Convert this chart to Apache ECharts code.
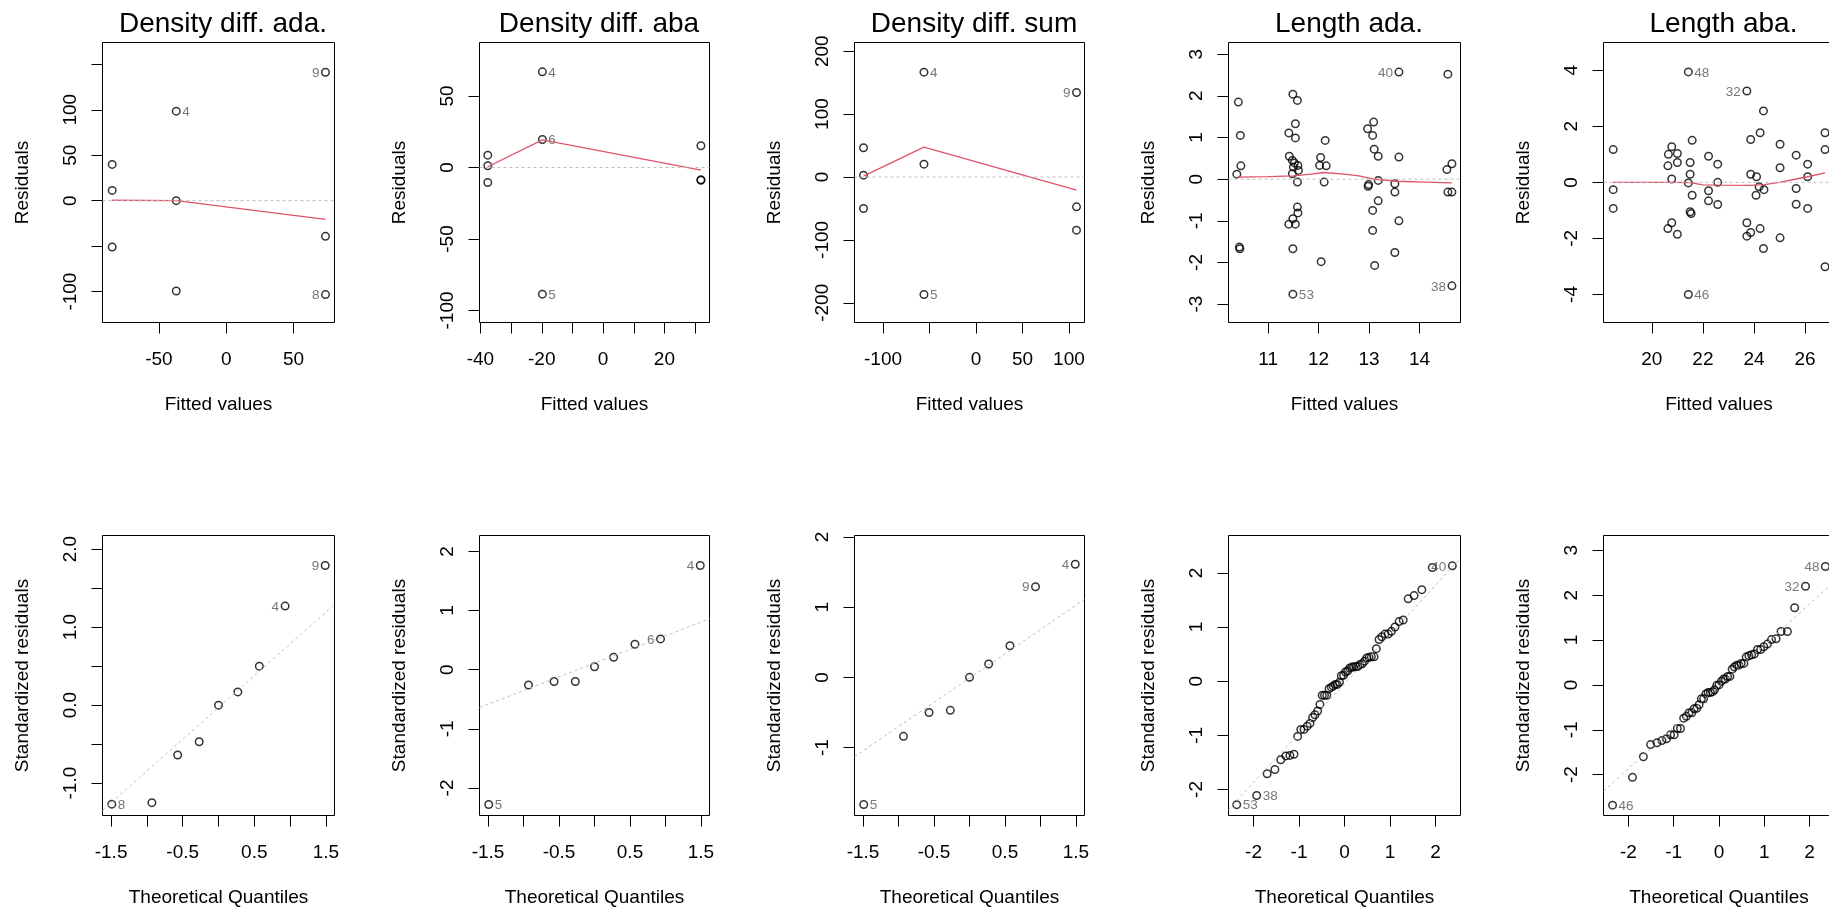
<!DOCTYPE html>
<html>
<head>
<meta charset="utf-8">
<title>Model diagnostics</title>
<script src="https://cdn.jsdelivr.net/npm/echarts@6/dist/echarts.min.js"></script>
<style>
  html, body { margin: 0; padding: 0; background: #ffffff; }
  #chart { width: 1829px; height: 910px; }
</style>
</head>
<body>
<div id="chart"></div>
<script>
// ---------- Density diff. ada. ----------
const adaFitted = [-84.7, -84.7, -84.7, -37.1, -37.1, -37.1, 73.8, 73.8, 73.8];
const adaResid  = [39.9, 11.3, -51.0, 98.5, 0.0, -99.3, 141.3, -39.2, -103.3];
const adaIds    = ['', '', '', '4', '', '', '9', '', '8'];
const adaSmoothX = [-84.7, -37.1, 73.8];
const adaSmoothY = [0.5, 0.0, -20.5];
const adaQQTheo = [-1.49, -0.93, -0.57, -0.27, 0.0, 0.27, 0.57, 0.93, 1.49];
const adaQQStd  = [-1.27, -1.25, -0.64, -0.47, 0.0, 0.17, 0.50, 1.27, 1.79];
const adaQQIds  = ['8', '', '', '', '', '', '', '4', '9'];
const adaQQLineX = [-1.62, 1.62];
const adaQQLineY = [-1.35, 1.29];

// ---------- Density diff. aba ----------
const abaFitted = [-37.6, -37.6, -37.6, -19.8, -19.8, -19.8, 31.9, 31.9, 31.9];
const abaResid  = [8.6, 1.2, -10.5, 66.9, 19.6, -88.6, 15.2, -8.6, -9.0];
const abaIds    = ['', '', '', '4', '6', '5', '', '', ''];
const abaSmoothX = [-37.6, -19.8, 31.9];
const abaSmoothY = [0.5, 19.3, -1.9];
const abaQQTheo = [-1.49, -0.93, -0.57, -0.27, 0.0, 0.27, 0.57, 0.93, 1.49];
const abaQQStd  = [-2.28, -0.26, -0.20, -0.20, 0.05, 0.21, 0.43, 0.52, 1.76];
const abaQQIds  = ['5', '', '', '', '', '', '', '6', '4'];
const abaQQLineX = [-1.62, 1.62];
const abaQQLineY = [-0.64, 0.86];

// ---------- Density diff. sum ----------
const sumFitted = [-121, -121, -121, -56, -56, -56, 108.1, 108.1, 108.1];
const sumResid  = [46.4, 2.9, -50.1, 166.6, 20.4, -186.8, 134.3, -47.4, -84.5];
const sumIds    = ['', '', '', '4', '', '5', '9', '', ''];
const sumSmoothX = [-121, -56, 108.1];
const sumSmoothY = [1.3, 47.4, -20.9];
const sumQQTheo = [-1.49, -0.93, -0.57, -0.27, 0.0, 0.27, 0.57, 0.93, 1.49];
const sumQQStd  = [-1.81, -0.84, -0.50, -0.47, 0.0, 0.19, 0.45, 1.29, 1.61];
const sumQQIds  = ['5', '', '', '', '', '', '', '9', '4'];
const sumQQLineX = [-1.62, 1.62];
const sumQQLineY = [-1.13, 1.11];

// ---------- Length ada. ----------
const lenAdaFitted = [
  10.41, 10.45, 10.46, 10.38, 10.43, 10.44,
  11.49, 11.58, 11.54, 11.41, 11.54, 11.42, 11.48, 11.52, 11.59, 11.50,
  11.60, 11.48, 11.58, 11.58, 11.59, 11.49, 11.41, 11.54, 11.49, 11.49,
  12.13, 12.04, 12.02, 12.15, 12.11, 12.05,
  13.09, 12.97, 13.07, 13.10, 13.18, 13.18, 12.99, 12.98, 13.18, 13.07, 13.07, 13.11,
  13.59, 13.59, 13.51, 13.51, 13.59, 13.51,
  14.56, 14.64, 14.54, 14.56, 14.64, 14.64
];
const lenAdaResid = [
  1.85, 1.05, 0.32, 0.12, -1.63, -1.67,
  2.04, 1.89, 1.33, 1.11, 0.99, 0.55, 0.45, 0.39, 0.33, 0.29,
  0.21, 0.13, -0.07, -0.67, -0.81, -0.95, -1.08, -1.08, -1.67, -2.76,
  0.93, 0.52, 0.33, 0.32, -0.07, -1.98,
  1.37, 1.21, 1.05, 0.72, 0.55, -0.03, -0.13, -0.17, -0.52, -0.75, -1.23, -2.07,
  2.57, 0.53, -0.11, -0.31, -1.00, -1.76,
  2.52, 0.37, 0.23, -0.31, -0.31, -2.56
];
const lenAdaIds = lenAdaResid.map(() => '');
lenAdaIds[25] = '53';
lenAdaIds[44] = '40';
lenAdaIds[55] = '38';
const lenAdaSmoothX = [10.38, 11.0, 11.5, 11.85, 12.1, 12.5, 12.8, 13.05, 13.55, 14.1, 14.64];
const lenAdaSmoothY = [0.05, 0.06, 0.08, 0.12, 0.16, 0.12, 0.08, 0.01, -0.05, -0.07, -0.09];
const lenAdaQQTheo = [
  -2.37, -1.93, -1.70, -1.53, -1.40, -1.29, -1.20, -1.11, -1.03, -0.96, -0.89, -0.82, -0.76, -0.70,
  -0.65, -0.59, -0.54, -0.49, -0.44, -0.39, -0.34, -0.29, -0.25, -0.20, -0.16, -0.11, -0.07, -0.02,
  0.02, 0.07, 0.11, 0.16, 0.20, 0.25, 0.29, 0.34, 0.39, 0.44, 0.49, 0.54, 0.59, 0.65,
  0.70, 0.76, 0.82, 0.89, 0.96, 1.03, 1.11, 1.20, 1.29, 1.40, 1.53, 1.70, 1.93, 2.37
];
const lenAdaQQStd = [
  -2.28, -2.11, -1.71, -1.63, -1.45, -1.38, -1.37, -1.35, -1.02, -0.89, -0.89, -0.83, -0.78, -0.67,
  -0.62, -0.55, -0.43, -0.26, -0.26, -0.26, -0.14, -0.11, -0.09, -0.06, -0.06, -0.02, 0.10, 0.11,
  0.17, 0.19, 0.24, 0.26, 0.26, 0.27, 0.27, 0.31, 0.32, 0.37, 0.43, 0.44, 0.45, 0.45,
  0.60, 0.77, 0.82, 0.87, 0.87, 0.92, 1.00, 1.10, 1.13, 1.52, 1.58, 1.69, 2.10, 2.13
];
const lenAdaQQIds = lenAdaQQStd.map(() => '');
lenAdaQQIds[0] = '53';
lenAdaQQIds[1] = '38';
lenAdaQQIds[55] = '40';
const lenAdaQQLineX = [-2.55, 2.55];
const lenAdaQQLineY = [-2.37, 2.27];

// ---------- Length aba. ----------
const lenAbaFitted = [
  18.49, 18.49, 18.49,
  20.78, 20.65, 21.00, 21.00, 20.63, 20.78, 20.78, 20.63, 21.00,
  21.43, 21.58, 21.50, 21.50, 21.43, 21.58, 21.50, 21.54, 21.43,
  22.22, 22.58, 22.58, 22.22, 22.22, 22.58,
  23.72, 24.37, 24.24, 23.87, 23.87, 24.10, 24.20, 24.39, 24.08, 23.72, 23.87, 23.72, 24.24, 24.37,
  25.02, 25.02, 25.02,
  25.65, 26.10, 26.10, 25.65, 25.65, 26.10,
  26.78, 26.78, 26.78
];
const lenAbaResid = [
  1.17, -0.26, -0.93,
  1.27, 1.00, 1.03, 0.71, 0.59, 0.12, -1.44, -1.65, -1.85,
  3.94, 1.50, 0.71, 0.29, -0.02, -0.46, -1.05, -1.11, -4.00,
  0.93, 0.65, 0.00, -0.30, -0.66, -0.79,
  3.26, 2.55, 1.77, 1.53, 0.29, 0.20, -0.16, -0.26, -0.46, -1.44, -1.79, -1.92, -1.65, -2.36,
  1.36, 0.52, -1.98,
  0.97, 0.65, 0.20, -0.22, -0.78, -0.93,
  1.77, 1.17, -3.01
];
const lenAbaIds = lenAbaResid.map(() => '');
lenAbaIds[12] = '48';
lenAbaIds[20] = '46';
lenAbaIds[27] = '32';
const lenAbaSmoothX = [18.49, 20.8, 21.5, 22.0, 22.6, 23.8, 24.4, 25.0, 25.65, 26.1, 26.78];
const lenAbaSmoothY = [0.0, 0.0, -0.01, -0.09, -0.10, -0.11, -0.08, 0.0, 0.12, 0.20, 0.34];
const lenAbaQQTheo = [
  -2.35, -1.91, -1.67, -1.51, -1.37, -1.26, -1.16, -1.07, -0.99, -0.92, -0.85, -0.78, -0.72, -0.66,
  -0.60, -0.55, -0.49, -0.44, -0.39, -0.34, -0.29, -0.24, -0.19, -0.14, -0.10, -0.05, 0.00,
  0.05, 0.10, 0.14, 0.19, 0.24, 0.29, 0.34, 0.39, 0.44, 0.49, 0.55, 0.60,
  0.66, 0.72, 0.78, 0.85, 0.92, 0.99, 1.07, 1.16, 1.26, 1.37, 1.51, 1.67, 1.91, 2.35
];
const lenAbaQQStd = [
  -2.68, -2.06, -1.60, -1.33, -1.29, -1.24, -1.20, -1.11, -1.11, -0.97, -0.97, -0.74, -0.70, -0.62,
  -0.62, -0.53, -0.52, -0.44, -0.31, -0.31, -0.20, -0.17, -0.17, -0.15, -0.11, -0.01, 0.00,
  0.08, 0.13, 0.13, 0.19, 0.19, 0.35, 0.40, 0.44, 0.44, 0.48, 0.48, 0.62,
  0.65, 0.67, 0.69, 0.79, 0.79, 0.85, 0.91, 1.01, 1.03, 1.19, 1.19, 1.72, 2.20, 2.64
];
const lenAbaQQIds = lenAbaQQStd.map(() => '');
lenAbaQQIds[0] = '46';
lenAbaQQIds[51] = '32';
lenAbaQQIds[52] = '48';
const lenAbaQQLineX = [-2.55, 2.55];
const lenAbaQQLineY = [-2.37, 2.31];

// ---------- tick positions and labels ----------
const qq9Ticks  = [-1.5, -1, -0.5, 0, 0.5, 1, 1.5];
const qq9Labels = [-1.5, -0.5, 0.5, 1.5];
const qqLenTicks = [-2, -1, 0, 1, 2];

const titles = ['Density diff. ada.', 'Density diff. aba', 'Density diff. sum', 'Length ada.', 'Length aba.'];

const FONT = '"Liberation Sans", Arial, Helvetica, sans-serif';

// top row: residuals vs fitted; bottom row: normal Q-Q
const panels = [
  { kind: 'rvf', x: adaFitted, y: adaResid, ids: adaIds, sx: adaSmoothX, sy: adaSmoothY,
    xr: [-91.9, 80.5], xt: [-50, 0, 50], xl: [-50, 0, 50],
    yr: [-134, 174], yt: [-100, -50, 0, 50, 100, 150], yl: [-100, 0, 50, 100] },
  { kind: 'rvf', x: abaFitted, y: abaResid, ids: abaIds, sx: abaSmoothX, sy: abaSmoothY,
    xr: [-40.3, 34.7], xt: [-40, -30, -20, -10, 0, 10, 20, 30], xl: [-40, -20, 0, 20],
    yr: [-108.4, 87.4], yt: [-100, -50, 0, 50], yl: [-100, -50, 0, 50] },
  { kind: 'rvf', x: sumFitted, y: sumResid, ids: sumIds, sx: sumSmoothX, sy: sumSmoothY,
    xr: [-130.7, 116.7], xt: [-100, -50, 0, 50, 100], xl: [-100, 0, 50, 100],
    yr: [-231.3, 213.8], yt: [-200, -100, 0, 100, 200], yl: [-200, -100, 0, 100, 200] },
  { kind: 'rvf', x: lenAdaFitted, y: lenAdaResid, ids: lenAdaIds, sx: lenAdaSmoothX, sy: lenAdaSmoothY,
    xr: [10.215, 14.81], xt: [11, 12, 13, 14], xl: [11, 12, 13, 14],
    yr: [-3.44, 3.28], yt: [-3, -2, -1, 0, 1, 2, 3], yl: [-3, -2, -1, 0, 1, 2, 3] },
  { kind: 'rvf', x: lenAbaFitted, y: lenAbaResid, ids: lenAbaIds, sx: lenAbaSmoothX, sy: lenAbaSmoothY,
    xr: [18.11, 27.15], xt: [20, 22, 24, 26], xl: [20, 22, 24, 26],
    yr: [-5.0, 4.99], yt: [-4, -2, 0, 2, 4], yl: [-4, -2, 0, 2, 4] },

  { kind: 'qq', x: adaQQTheo, y: adaQQStd, ids: adaQQIds, lx: adaQQLineX, ly: adaQQLineY,
    xr: [-1.62, 1.62], xt: qq9Ticks, xl: qq9Labels,
    yr: [-1.415, 2.175], yt: [-1, -0.5, 0, 0.5, 1, 1.5, 2], yl: [-1, 0, 1, 2], yFixed: 1 },
  { kind: 'qq', x: abaQQTheo, y: abaQQStd, ids: abaQQIds, lx: abaQQLineX, ly: abaQQLineY,
    xr: [-1.62, 1.62], xt: qq9Ticks, xl: qq9Labels,
    yr: [-2.465, 2.268], yt: [-2, -1, 0, 1, 2], yl: [-2, -1, 0, 1, 2] },
  { kind: 'qq', x: sumQQTheo, y: sumQQStd, ids: sumQQIds, lx: sumQQLineX, ly: sumQQLineY,
    xr: [-1.62, 1.62], xt: qq9Ticks, xl: qq9Labels,
    yr: [-1.967, 2.02], yt: [-1, 0, 1, 2], yl: [-1, 0, 1, 2] },
  { kind: 'qq', x: lenAdaQQTheo, y: lenAdaQQStd, ids: lenAdaQQIds, lx: lenAdaQQLineX, ly: lenAdaQQLineY,
    xr: [-2.55, 2.55], xt: qqLenTicks, xl: qqLenTicks,
    yr: [-2.48, 2.69], yt: [-2, -1, 0, 1, 2], yl: [-2, -1, 0, 1, 2] },
  { kind: 'qq', x: lenAbaQQTheo, y: lenAbaQQStd, ids: lenAbaQQIds, lx: lenAbaQQLineX, ly: lenAbaQQLineY,
    xr: [-2.55, 2.55], xt: qqLenTicks, xl: qqLenTicks,
    yr: [-2.91, 3.33], yt: [-2, -1, 0, 1, 2, 3], yl: [-2, -1, 0, 1, 2, 3] }
];

// plot-region geometry (pixels)
const colLeft  = [102, 479, 854, 1228, 1603];
const colWidth = [232, 230, 230, 232, 231];
const rowTop   = [42, 535];
const plotHeight = 280;

const grids = [], xAxes = [], yAxes = [], series = [], titleList = [];

panels.forEach((p, i) => {
  const col = i % 5, row = Math.floor(i / 5);
  grids.push({
    left: colLeft[col] + 0.5, top: rowTop[row] + 0.5,
    width: colWidth[col], height: plotHeight,
    show: true, borderColor: '#000', borderWidth: 1, backgroundColor: 'transparent',
    containLabel: false, outerBoundsMode: 'none'
  });

  const tickStyle = { show: true, inside: false, length: 11, lineStyle: { color: '#000', width: 1 } };
  const labelStyle = { color: '#000', fontSize: 19, fontFamily: FONT };
  const nameStyle = { color: '#000', fontSize: 19, fontFamily: FONT };

  xAxes.push({
    type: 'value', gridIndex: i, min: p.xr[0], max: p.xr[1], position: 'bottom',
    axisLine: { show: false, onZero: false }, splitLine: { show: false },
    axisTick: Object.assign({ customValues: p.xt }, tickStyle),
    axisLabel: Object.assign({ customValues: p.xl, margin: 28 }, labelStyle),
    name: p.kind === 'rvf' ? 'Fitted values' : 'Theoretical Quantiles',
    nameLocation: 'middle', nameGap: 73, nameTextStyle: nameStyle
  });
  yAxes.push({
    type: 'value', gridIndex: i, min: p.yr[0], max: p.yr[1], position: 'left',
    axisLine: { show: false, onZero: false }, splitLine: { show: false },
    axisTick: Object.assign({ customValues: p.yt }, tickStyle),
    axisLabel: Object.assign({
      customValues: p.yl, margin: 22, rotate: 90,
      formatter: p.yFixed ? (v) => Number(v).toFixed(p.yFixed) : null
    }, labelStyle),
    name: p.kind === 'rvf' ? 'Residuals' : 'Standardized residuals',
    nameLocation: 'middle', nameGap: 70, nameTextStyle: nameStyle
  });

  const mid = (p.xr[0] + p.xr[1]) / 2;
  const points = p.x.map((x, k) => {
    const item = { value: [x, p.y[k]] };
    const id = p.ids[k];
    if (id) {
      item.label = { show: true, formatter: id, position: x > mid ? 'left' : 'right' };
    }
    return item;
  });
  series.push({
    type: 'scatter', xAxisIndex: i, yAxisIndex: i, data: points,
    symbol: 'circle', symbolSize: 7.5,
    itemStyle: { color: 'rgba(0,0,0,0)', borderColor: '#000', borderWidth: 1.5 },
    label: { show: false, fontSize: 13.5, color: '#555', fontFamily: FONT, distance: 1.5, offset: [0, 1] },
    emphasis: { disabled: true }, silent: true, z: 2
  });

  const grey = { color: '#bebebe', width: 1, type: [3, 3] };
  if (p.kind === 'rvf') {
    series.push({
      type: 'line', xAxisIndex: i, yAxisIndex: i,
      data: p.sx.map((x, k) => [x, p.sy[k]]),
      symbol: 'none', lineStyle: { color: '#DF536B', width: 1.3 }, silent: true, z: 3
    });
    series.push({
      type: 'line', xAxisIndex: i, yAxisIndex: i,
      data: [[p.xr[0], 0], [p.xr[1], 0]],
      symbol: 'none', lineStyle: grey, silent: true, z: 4
    });
    titleList.push({
      text: titles[col], left: colLeft[col] + colWidth[col] / 2, top: 5, textAlign: 'center',
      textStyle: { color: '#000', fontSize: 28, fontWeight: 'normal', fontFamily: FONT }
    });
  } else {
    series.push({
      type: 'line', xAxisIndex: i, yAxisIndex: i,
      data: p.lx.map((x, k) => [x, p.ly[k]]),
      symbol: 'none', lineStyle: grey, silent: true, z: 4
    });
  }
});

const chart = echarts.init(document.getElementById('chart'), null, { renderer: 'canvas' });
chart.setOption({
  animation: false,
  backgroundColor: '#ffffff',
  title: titleList,
  grid: grids,
  xAxis: xAxes,
  yAxis: yAxes,
  series: series
});
</script>
</body>
</html>
